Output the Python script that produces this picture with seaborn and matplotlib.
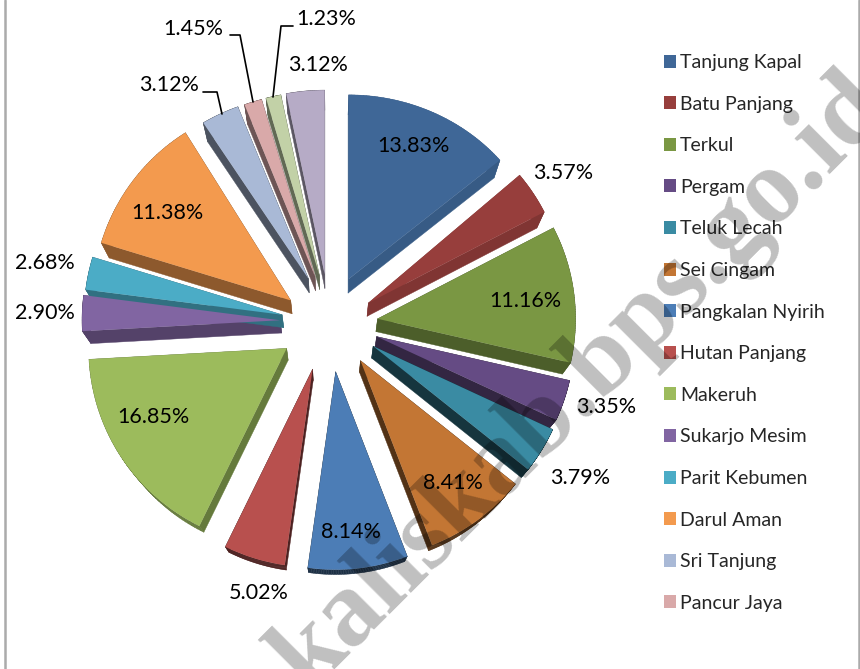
import numpy as np
import matplotlib
matplotlib.use('Agg')
import matplotlib.pyplot as plt
from matplotlib.collections import PolyCollection
from matplotlib.transforms import Affine2D
import seaborn as sns

W, H = 860, 669

# slices, clockwise from 12 o'clock
values = [13.83, 3.57, 11.16, 3.35, 3.79, 8.41, 8.14, 5.02, 16.85, 2.90, 2.68, 11.38, 3.12, 1.45, 1.23, 3.12]
# the legend in the picture is cut off after 14 rows
legend_names = ['Tanjung Kapal', 'Batu Panjang', 'Terkul', 'Pergam', 'Teluk Lecah', 'Sei Cingam',
                'Pangkalan Nyirih', 'Hutan Panjang', 'Makeruh', 'Sukarjo Mesim', 'Parit Kebumen',
                'Darul Aman', 'Sri Tanjung', 'Pancur Jaya']
top_colors = ['#3F6797', '#973E3C', '#7A9743', '#654B84', '#3A8BA3', '#C37634', '#4C7DB6', '#B8504E',
              '#9CBB5C', '#8165A2', '#4BACC6', '#F39A4E', '#A9B9D6', '#D9A9A9', '#C2D1A7', '#B6ABC6']
side_shade = [0.88, 0.85, 0.62, 0.5, 0.38, 0.42, 0.38, 0.42, 0.65, 0.65, 0.65, 0.58, 0.45, 0.5, 0.5, 0.5]
explode_px = [54, 45, 49, 45, 46, 43, 41, 42, 46, 49, 49, 52, 55, 54, 54, 54]
# perspective: slices at the back look flatter
y_scale = [0.93, 1, 1, 1, 1, 1, 1, 1, 1, 1, 1, 1, 0.93, 0.93, 0.93, 0.93]
# small nudges (image pixels) on top of the explode
nudge = [(-4, 0), (1, 0), (-1, -3), (4, -6), (4, -6), (5, -2), (1, 3), (-5, 1),
         (-5, -5), (-1, -6), (0, -3), (2, 4), (3, 0), (2, 0), (2, 0), (0, 0)]

# label centres in image pixels
label_xy = [(413, 146), (563, 173), (525, 301), (606, 407), (580, 478), (453, 483), (351, 532), (259, 593),
            (153, 417), (45, 313), (45, 263), (167, 213), (169, 85), (193, 29), (326, 19), (318, 65)]
leaders = [[(203, 92), (217, 92), (222, 114)],
           [(230, 35), (240, 35), (253, 102)],
           [(293, 26), (281, 26), (273, 97)]]

R = 198
CX, CY = 330, 328

sns.set_theme(style='white')
plt.rcParams['font.family'] = ['Lato', 'DejaVu Sans']

fig = plt.figure(figsize=(W / 100, H / 100), dpi=100)
ax = fig.add_axes([0, 0, 1, 1])
palette = sns.color_palette(top_colors)

# explode is in data units here, because the radius is in pixels
wedges, _ = ax.pie(values, colors=palette, startangle=90, counterclock=False, radius=R,
                   center=(CX, H - CY), explode=explode_px,
                   wedgeprops=dict(linewidth=0, zorder=2))
ax.set_xlim(0, W)
ax.set_ylim(0, H)
ax.set_aspect('auto')


def extrude(pts):
    # depth of the fake 3d: shrinks towards the bottom of the picture
    ypx = H - pts[:, 1]
    return pts + np.column_stack([-0.035 * (pts[:, 0] - CX), -(23 - 0.032 * ypx)])


for w, col, shade, s, (dx, dy) in zip(wedges, palette, side_shade, y_scale, nudge):
    cx, cy = w.center[0] + dx, w.center[1] - dy
    w.set_center((cx, cy))
    w.set_transform(Affine2D().translate(0, -cy).scale(1, s).translate(0, cy) + ax.transData)
    t = np.radians(np.linspace(w.theta1, w.theta2, 60))
    arc = np.column_stack([cx + w.r * np.cos(t), cy + s * w.r * np.sin(t)])
    top = np.vstack([(cx, cy), arc, (cx, cy)])
    low = extrude(top)
    quads = [[top[i], top[i + 1], low[i + 1], low[i]] for i in range(len(top) - 1)]
    side = tuple(c * shade for c in col)
    ax.add_collection(PolyCollection(quads, facecolors=side, edgecolors=side, linewidths=0.3, zorder=1))

for v, (x, y) in zip(values, label_xy):
    ax.text(x, H - y, f'{v:.2f}%', fontsize=15.5, color='black', ha='center', va='center', zorder=4)

for line in leaders:
    xs, ys = zip(*line)
    ax.plot(xs, [H - y for y in ys], color='black', lw=1.2, zorder=3)

leg = ax.legend(wedges[:14], legend_names, loc='upper left', bbox_to_anchor=(663.5 / W, 1 - 54 / H),
                frameon=False, fontsize=14, labelspacing=1.265, handlelength=0.65, handleheight=0.65,
                handletextpad=0.2, borderpad=0, borderaxespad=0)
leg.set_zorder(5)

# page frame
ax.axvline(5, color='#ababab', lw=1.8, zorder=0)
ax.axvline(858.5, color='#ababab', lw=1.8, zorder=0)

# watermark on top of everything
ax.text(308, H - 693, 'kaliskab.bps.go.id', family='Liberation Serif', fontweight='bold', fontsize=77,
        rotation=45, rotation_mode='anchor', ha='left', va='baseline', color='black', alpha=0.25,
        zorder=10, clip_on=True)

ax.axis('off')
fig.savefig('out.png', dpi=100)
